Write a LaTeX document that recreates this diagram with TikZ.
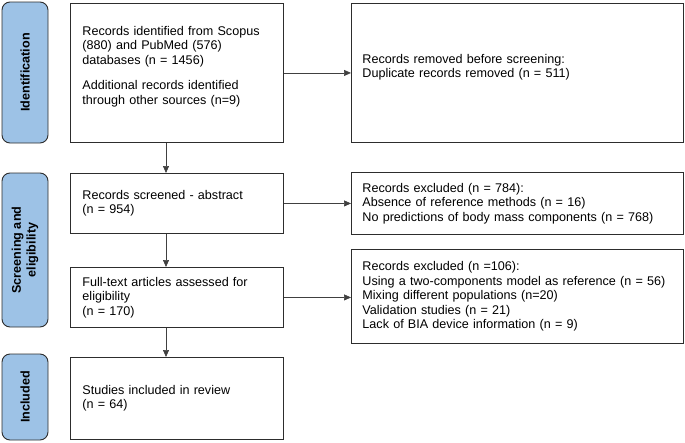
\documentclass[tikz,border=0pt]{standalone}
\usepackage{fontspec}
\setmainfont{Liberation Sans}
\usetikzlibrary{arrows.meta}
\definecolor{labblue}{RGB}{157,194,230}
\definecolor{edge}{RGB}{45,45,45}
\begin{document}
\begin{tikzpicture}[x=1pt,y=-1pt,
  txt/.style={font=\fontsize{12.6}{14.4}\selectfont},
  box/.style={txt, draw=edge, line width=0.9pt, inner xsep=12pt, inner ysep=0pt, align=left, anchor=north west},
  lab/.style={draw=edge, line width=0.9pt, fill=labblue, rounded corners=8pt,
    font=\bfseries\fontsize{12.6}{14.6}\selectfont, align=center, rotate=90, inner sep=0pt},
  arr/.style={-{Triangle[length=7pt,width=6pt]}, draw=black!75, line width=0.7pt}
]
\useasboundingbox (0,0) rectangle (685,442);
% phase labels
\node[lab, minimum width=141pt, minimum height=46pt] (l1) at (25,72.5) {Identification};
\node[lab, minimum width=154pt, minimum height=46pt] (l2) at (25,250) {Screening and\\eligibility};
\node[lab, minimum width=86pt, minimum height=46pt] (l3) at (25,397) {Included};
% left column
\node[box, text width=189pt, minimum height=139pt] (b1) at (70,3)
  {Records identified from Scopus\\(880) and PubMed (576)\\databases (n = 1456)\\[11pt]Additional records identified\\through other sources (n=9)\\[1pt]\mbox{}};
\node[box, text width=189pt, minimum height=60pt] (b2) at (70,173)
  {Records screened - abstract\\(n = 954)};
\node[box, text width=189pt, minimum height=60pt] (b3) at (70,267)
  {Full-text articles assessed for\\eligibility\\(n = 170)};
\node[box, text width=189pt, minimum height=82pt] (b4) at (70,357)
  {Studies included in review\\(n = 64)};
% right column
\node[box, inner xsep=11pt, text width=310pt, minimum height=139pt] (r1) at (351,3)
  {Records removed before screening:\\Duplicate records removed (n = 511)\\[0pt]\mbox{}};
\node[box, inner xsep=11pt, text width=310pt, minimum height=62pt] (r2) at (351,172)
  {Records excluded (n = 784):\\Absence of reference methods (n = 16)\\No predictions of body mass components (n = 768)};
\node[box, inner xsep=11pt, text width=310pt, minimum height=94pt] (r3) at (351,249)
  {Records excluded (n =106):\\Using a two-components model as reference (n = 56)\\Mixing different populations (n=20)\\Validation studies (n = 21)\\Lack of BIA device information (n = 9)};
% connectors
\coordinate (ax) at (166,0);
\draw[arr] (b1.south -| ax) -- (b2.north -| ax);
\draw[arr] (b2.south -| ax) -- (b3.north -| ax);
\draw[arr] (b3.south -| ax) -- (b4.north -| ax);
\draw[arr] (b1.east) -- (r1.west);
\draw[arr] (b2.east) -- (r2.west |- b2.east);
\draw[arr] (b3.east) -- (r3.west |- b3.east);
\end{tikzpicture}
\end{document}
